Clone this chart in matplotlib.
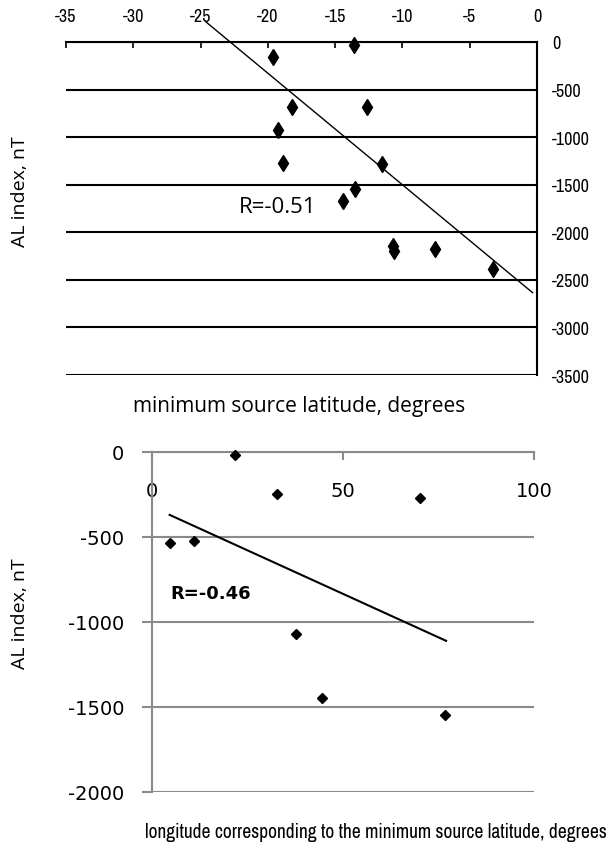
import numpy as np
import matplotlib
matplotlib.use('Agg')
import matplotlib.pyplot as plt

plt.rcParams['axes.unicode_minus'] = False

# --- Top panel: AL index vs minimum source latitude ---
lat_x = [-13.6, -19.6, -18.2, -12.6, -19.25, -18.9, -11.5, -13.5, -14.4, -10.7, -10.6, -7.6, -3.3]
lat_al = [-32, -155, -683, -683, -923, -1275, -1285, -1545, -1670, -2149, -2201, -2177, -2385]
lat_trend_x = [-24.6, -0.33]
lat_trend_y = [211, -2635]
lat_xticks = [-35, -30, -25, -20, -15, -10, -5, 0]
lat_yticks = [0, -500, -1000, -1500, -2000, -2500, -3000, -3500]

# --- Bottom panel: AL index vs longitude ---
lon_x = [21.7, 32.8, 70.2, 4.6, 10.9, 37.7, 44.6, 76.7]
lon_al = [-20, -248, -272, -535, -524, -1070, -1447, -1545]
lon_trend_x = [4.6, 77.0]
lon_trend_y = [-370, -1111]
lon_xticks = [0, 50, 100]
lon_yticks = [0, -500, -1000, -1500, -2000]

narrow = ['Archivo Narrow', 'DejaVu Sans']
label_font = ['Open Sans', 'DejaVu Sans']

fig = plt.figure(figsize=(6.11, 8.53), dpi=100)

# top axes
ax1 = fig.add_axes([0.108, 0.5592, 0.771, 0.3904])
ax1.plot(lat_x, lat_al, linestyle='none', marker='d', markersize=8.5,
         color='black', clip_on=False, zorder=3)
ax1.plot(lat_trend_x, lat_trend_y, color='black', lw=1.0, clip_on=False, zorder=2)
ax1.set_xlim(-35, 0)
ax1.set_ylim(-3500, 0)
ax1.xaxis.tick_top()
ax1.yaxis.tick_right()
ax1.set_xticks(lat_xticks)
ax1.set_yticks(lat_yticks)
ax1.set_xticklabels([str(v) for v in lat_xticks], family=narrow, fontsize=13)
ax1.set_yticklabels([str(v) for v in lat_yticks], family=narrow, fontsize=13)
ax1.tick_params(axis='x', direction='in', length=4, width=1.2, pad=13)
ax1.tick_params(axis='y', length=0, pad=11)
for s in ['left', 'bottom']:
    ax1.spines[s].set_visible(False)
for s in ['top', 'right']:
    ax1.spines[s].set_linewidth(1.5)
ax1.grid(axis='y', color='black', lw=1.5)
ax1.set_axisbelow(True)
ax1.text(-19.3, -1730, 'R=-0.51', family=label_font, fontsize=16,
         ha='center', va='center')

# bottom axes
gray = '#8a8a8a'
ax2 = fig.add_axes([0.2488, 0.0704, 0.625, 0.3986])
ax2.plot(lon_x, lon_al, linestyle='none', marker='D', markersize=5.5,
         color='black', clip_on=False, zorder=3)
ax2.plot(lon_trend_x, lon_trend_y, color='black', lw=1.5, zorder=2)
ax2.set_xlim(0, 100)
ax2.set_ylim(-2000, 0)
ax2.spines['bottom'].set_position(('data', 0))
ax2.spines['bottom'].set_color(gray)
ax2.spines['left'].set_color(gray)
ax2.spines['bottom'].set_linewidth(1.5)
ax2.spines['left'].set_linewidth(1.5)
ax2.spines['top'].set_visible(False)
ax2.spines['right'].set_visible(False)
ax2.set_xticks(lon_xticks)
ax2.set_yticks(lon_yticks)
ax2.set_xticklabels([str(v) for v in lon_xticks], fontsize=14)
ax2.set_yticklabels([str(v) for v in lon_yticks], fontsize=14)
ax2.tick_params(axis='x', direction='out', length=6, width=1.5, color=gray, pad=15)
ax2.tick_params(axis='y', direction='out', length=7, width=1.5, color=gray, pad=13)
ax2.grid(axis='y', color=gray, lw=1.5)
ax2.set_axisbelow(True)
ax2.text(4.9, -827, 'R=-0.46', fontsize=13, fontweight='bold',
         ha='left', va='center')

# axis titles
fig.text(299 / 611, 1 - 407 / 853, 'minimum source latitude, degrees',
         family=label_font, fontsize=15, ha='center', va='center')
fig.text(20 / 611, 1 - 192 / 853, 'AL index, nT', family=label_font,
         fontsize=14, rotation=90, ha='center', va='center')
fig.text(20 / 611, 1 - 614 / 853, 'AL index, nT', family=label_font,
         fontsize=14, rotation=90, ha='center', va='center')
fig.text(376 / 611, 1 - 833 / 853,
         'longitude corresponding to the minimum source latitude, degrees',
         family=narrow, fontsize=14, ha='center', va='center')

fig.savefig('out.png', dpi=100)
